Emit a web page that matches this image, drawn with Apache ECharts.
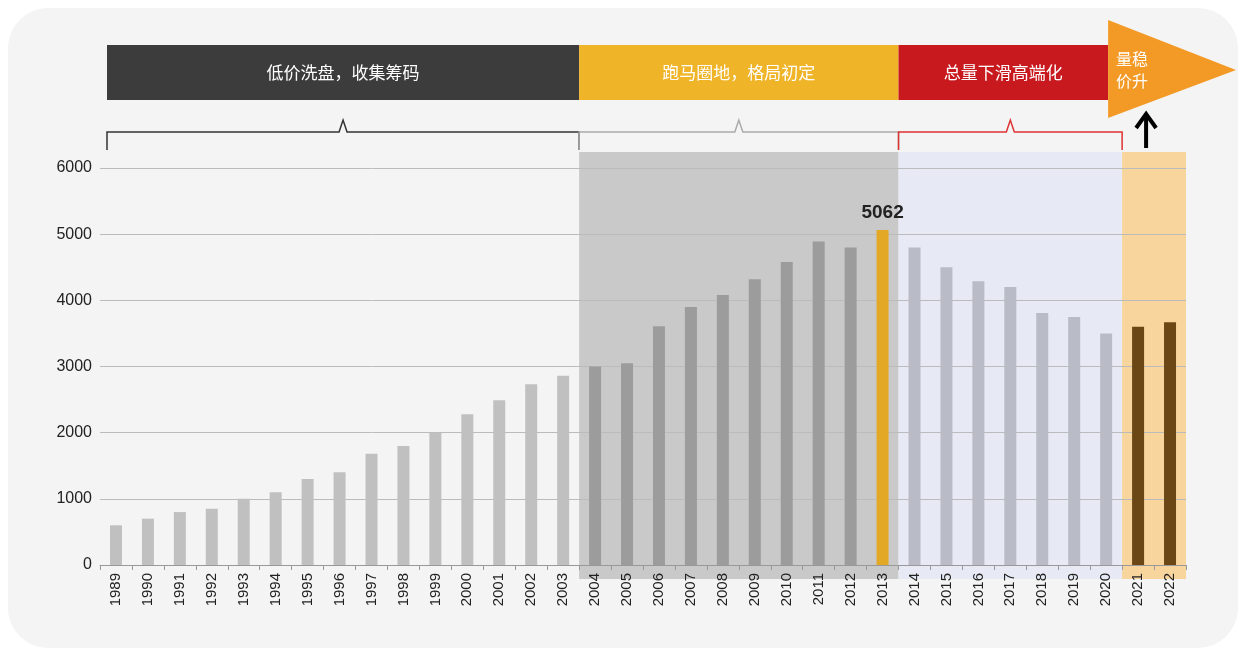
<!DOCTYPE html><html><head><meta charset="utf-8">
<script src="https://cdn.jsdelivr.net/npm/echarts@6/dist/echarts.min.js"></script>
<style>html,body{margin:0;background:#fff}#c{width:1246px;height:662px}</style></head><body><div id="c"></div>
<script>
const years=['1989','1990','1991','1992','1993','1994','1995','1996','1997','1998','1999','2000','2001','2002','2003','2004','2005','2006','2007','2008','2009','2010','2011','2012','2013','2014','2015','2016','2017','2018','2019','2020','2021','2022'];
const values=[600,700,800,850,1000,1100,1300,1400,1680,1800,2000,2280,2490,2730,2860,3000,3050,3610,3900,4080,4320,4580,4890,4800,5062,4800,4500,4290,4200,3810,3750,3500,3600,3670];
const yTicks=[0,1000,2000,3000,4000,5000,6000];
const phases=[{t:'低价洗盘，收集筹码',from:'1989',to:'2003'},{t:'跑马圈地，格局初定',from:'2004',to:'2013'},{t:'总量下滑高端化',from:'2014',to:'2020'},{t:'量稳\n价升',from:'2021',to:'2022'}];
function barColor(i){const y=+years[i];if(y===2013)return '#e2a826';if(y<2004)return '#c0c0c0';if(y<2013)return '#9c9c9c';if(y<2021)return '#b9bbc6';return '#6b4716';}
const chart=echarts.init(document.getElementById('c'));
chart.setOption({animation:false,
grid:{left:100,right:60,top:168,bottom:97},
xAxis:{type:'category',data:years,axisTick:{show:true,lineStyle:{color:'#999'}},axisLine:{lineStyle:{color:'#999'}},axisLabel:{rotate:90,fontSize:15,color:'#222',fontFamily:'Liberation Sans',margin:8}},
yAxis:{type:'value',min:0,max:6000,interval:1000,axisLabel:{fontSize:16,color:'#222',fontFamily:'Liberation Sans',formatter:v=>String(v)},splitLine:{lineStyle:{color:'#bbb'}}},
series:[{type:'bar',barWidth:12,z:5,data:values.map((v,i)=>({value:v,itemStyle:{color:barColor(i)},label:years[i]==='2013'?{show:true,position:'top',formatter:'5062',fontSize:19,fontWeight:'bold',color:'#222',distance:8}:{show:false}}))}]});
const px=(c,v)=>chart.convertToPixel({xAxisIndex:0,yAxisIndex:0},[c,v]);
const step=px('1990',0)[0]-px('1989',0)[0];
const L=c=>px(c,0)[0]-step/2, R=c=>px(c,0)[0]+step/2;
const y0=px('1989',0)[1], yTop=px('1989',6000)[1];
const g=[];
g.push({type:'rect',z:-20,shape:{x:8,y:8,width:1230,height:640,r:40},style:{fill:'#f4f4f4'}});
const bg=[['2004','2013','#c9c9c9'],['2014','2020','#e7eaf4'],['2021','2022','#f8d59c']];
bg.forEach(b=>{g.push({type:'rect',z:-10,shape:{x:L(b[0]),y:yTop-16,width:R(b[1])-L(b[0]),height:y0-yTop+30},style:{fill:b[2]}});});
const cols=['#3c3c3c','#f0b429','#c8191e'];
const bTop=45,bH=55,ax=L('2021')-14;
phases.slice(0,3).forEach((p,i)=>{const x1=i===0?107:L(p.from),x2=i===2?ax:R(p.to);
g.push({type:'rect',shape:{x:x1,y:bTop,width:x2-x1,height:bH},style:{fill:cols[i]}});
g.push({type:'text',style:{x:(x1+x2)/2,y:bTop+bH/2,text:p.t,fill:'#fff',font:'17px "Noto Sans CJK SC"',align:'center',verticalAlign:'middle'}});
const bx2=R(p.to),bc=['#333','#aaa','#d33'][i],by=120,bb=150,mx=(x1+bx2)/2;
g.push({type:'polyline',shape:{points:[[x1,bb],[x1,by+12],[mx-4,by+12],[mx,by],[mx+4,by+12],[bx2,by+12],[bx2,bb]]},style:{stroke:bc,lineWidth:1.5,fill:null}});});
g.push({type:'polygon',shape:{points:[[ax,20],[1236,70],[ax,118]]},style:{fill:'#f39a26'}});
g.push({type:'text',style:{x:ax+24,y:70,text:'量稳\n价升',fill:'#fff',font:'16px "Noto Sans CJK SC"',align:'center',verticalAlign:'middle',lineHeight:22}});
const ux=px('2021',0)[0]+8;
g.push({type:'line',shape:{x1:ux,y1:148,x2:ux,y2:116},style:{stroke:'#000',lineWidth:4}});
g.push({type:'polyline',shape:{points:[[ux-10,128],[ux,114],[ux+10,128]]},style:{stroke:'#000',lineWidth:4,fill:null}});
chart.setOption({graphic:g});
</script></body></html>
